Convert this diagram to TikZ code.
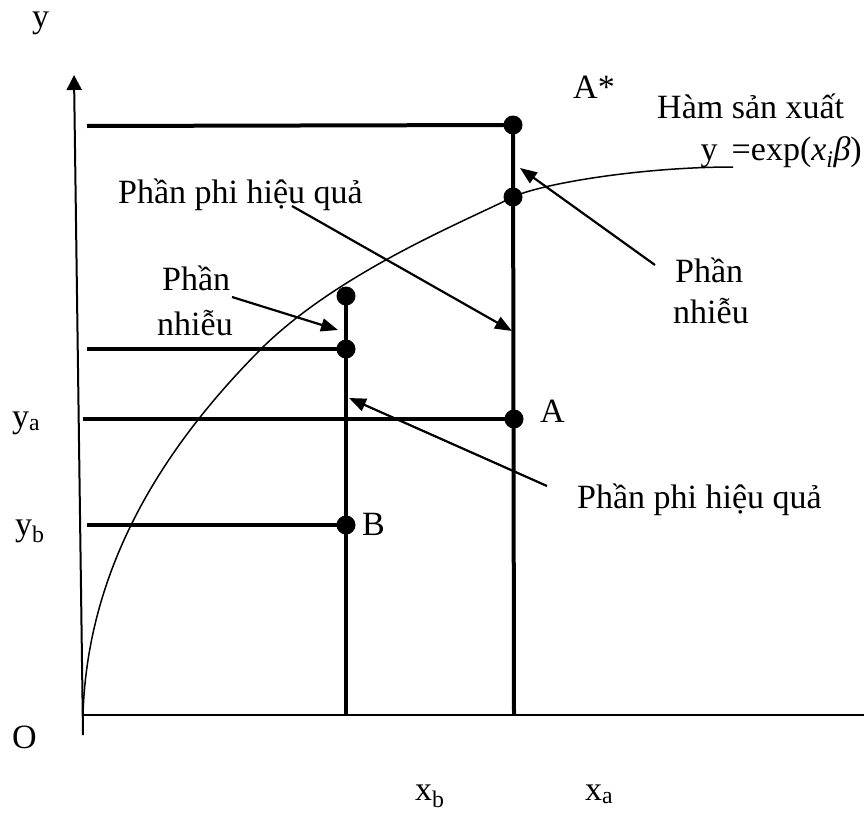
\documentclass[tikz,border=0pt]{standalone}
\usepackage{fontspec}
\setmainfont{Liberation Serif}
\usetikzlibrary{arrows.meta}
\begin{document}
\begin{tikzpicture}[x=1pt,y=-1pt,
  lbl/.style={inner sep=0pt, font=\fontsize{34}{40}\selectfont, anchor=base west},
  thickln/.style={line width=4pt},
  axisln/.style={line width=2.5pt},
  curveln/.style={line width=1.5pt},
  dotc/.style={circle, fill=black, inner sep=0pt, minimum size=19pt},
  arr/.style={line width=2.2pt, -{Triangle[length=17pt,width=13pt]}}]
\useasboundingbox (0,0) rectangle (864,816);

% axes
\coordinate (ytop) at (74,75);
\coordinate (ybot) at (83,735);
\coordinate (O) at (83,715);
\coordinate (xend) at (864,715);
\draw[line width=2pt, -{Triangle[length=15pt,width=15pt]}] (ybot) -- (ytop);
\draw[axisln] (O) -- (xend);

% production function curve
\coordinate (c0) at (83,714);
\coordinate (c1) at (263,347);
\coordinate (c2) at (513,197);
\coordinate (c3) at (733,167);
\draw[curveln] (c0) .. controls (88,560) and (170,440) .. (c1)
  .. controls (340,272) and (463,222) .. (c2)
  .. controls (540,184) and (640,167) .. (c3);

% dots
\node[dotc] (Astar) at (513,125) {};
\node[dotc] (C) at (513,197) {};
\node[dotc] (A) at (514,419) {};
\node[dotc] (D) at (346,296) {};
\node[dotc] (E) at (346,349) {};
\node[dotc] (B) at (346,525) {};

% vertical lines
\coordinate (xa0) at (514,715);
\coordinate (xb0) at (346,715);
\draw[thickln] (Astar.center) -- (xa0);
\draw[thickln] (D.center) -- (xb0);

% horizontal lines
\coordinate (h1) at (87,126);
\coordinate (h2) at (87,349);
\coordinate (h3) at (83,419);
\coordinate (h4) at (87,525);
\draw[thickln] (h1) -- (Astar.center);
\draw[thickln] (h2) -- (E.center);
\draw[thickln] (h3) -- (A.center);
\draw[thickln] (h4) -- (B.center);

% labels
\node[lbl] (ylab) at (32,28) {y};
\node[lbl] (astarlab) at (573,98) {A*};
\node[lbl] (ham) at (657,118) {Hàm sản xuất};
\node[lbl, anchor=base east] (fn) at (862,160) {y\ \,=exp({\itshape x}\textsubscript{\itshape i}{\itshape β})};
\node[lbl] (phi1) at (118,203) {Phần phi hiệu quả};
\node[lbl] (nh1a) at (162,290) {Phần};
\node[lbl] (nh1b) at (157,335) {nhiễu};
\node[lbl] (nh2a) at (675,282) {Phần};
\node[lbl] (nh2b) at (673,323) {nhiễu};
\node[lbl] (Alab) at (540,422) {A};
\node[lbl] (phi2) at (577,508) {Phần phi hiệu quả};
\node[lbl] (Blab) at (362,535) {B};
\node[lbl] (ya) at (12,427) {y\textsubscript{a}};
\node[lbl] (yb) at (15,535) {y\textsubscript{b}};
\node[lbl] (Olab) at (12,748) {O};
\node[lbl] (xb) at (415,800) {x\textsubscript{b}};
\node[lbl] (xa) at (585,800) {x\textsubscript{a}};

% arrows
\coordinate (t1) at (292,206);
\coordinate (e1) at (512,331);
\coordinate (t2) at (232,297);
\coordinate (e2) at (338,330);
\coordinate (t3) at (655,265);
\coordinate (e3) at (520,168);
\coordinate (t4) at (547,486);
\coordinate (e4) at (349,398);
\draw[arr] (t1) -- (e1);
\draw[arr] (t2) -- (e2);
\draw[arr] (t3) -- (e3);
\draw[arr] (t4) -- (e4);
\end{tikzpicture}
\end{document}
